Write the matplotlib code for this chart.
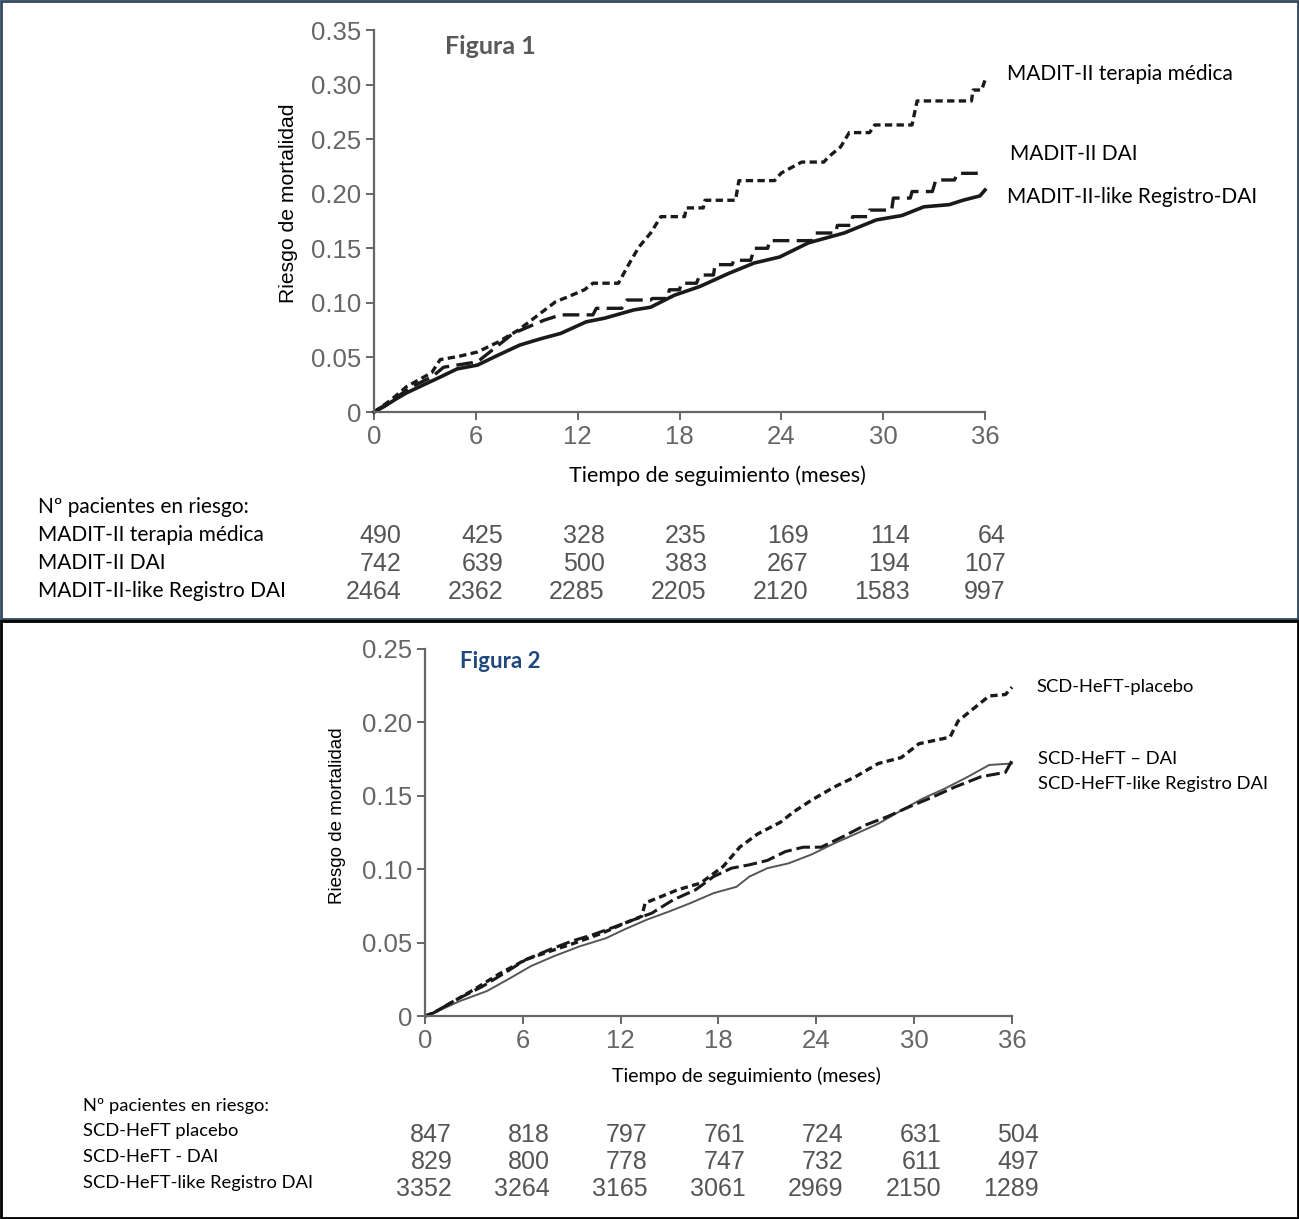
import matplotlib
matplotlib.use("Agg")
import matplotlib.pyplot as plt
import matplotlib.patches as mpatches
from matplotlib.transforms import blended_transform_factory

W, H = 1299, 1219

# --- Figura 1 (MADIT-II) --- corner points of the curves
t_med = [0, 1.0, 1.9, 2.7, 3.4, 3.9, 5.0, 6.1, 7.3, 8.5, 9.6, 10.7, 11.5, 12.4, 12.9,
         14.4, 15.0, 15.6, 16.3, 16.9, 18.3, 18.4, 19.4, 19.5, 21.3, 21.5, 23.6, 24.0,
         24.6, 25.2, 26.5, 26.8, 27.5, 28.0, 29.2, 29.5, 31.7, 32.0, 35.2, 35.3, 35.8, 36]
y_med = [0, 0.011, 0.023, 0.030, 0.036, 0.048, 0.051, 0.055, 0.064, 0.075, 0.088, 0.101,
         0.106, 0.112, 0.118, 0.118, 0.135, 0.151, 0.164, 0.179, 0.179, 0.187, 0.187,
         0.194, 0.194, 0.212, 0.212, 0.219, 0.224, 0.229, 0.229, 0.234, 0.243, 0.256,
         0.256, 0.263, 0.263, 0.285, 0.285, 0.295, 0.295, 0.304]

t_dai = [0, 1.2, 2.2, 3.4, 4.1, 6.1, 8.2, 10.0, 11.0, 12.9, 13.1, 14.6, 14.9, 16.3, 16.4,
         17.3, 17.4, 18.0, 18.1, 19.0, 19.2, 20.0, 20.1, 21.1, 21.2, 22.2, 22.4, 23.2,
         23.3, 25.8, 26.0, 27.2, 27.3, 28.1, 28.2, 29.1, 29.2, 30.5, 30.6, 31.6, 31.7,
         32.9, 33.1, 34.2, 34.4, 36]
y_dai = [0, 0.012, 0.023, 0.032, 0.041, 0.046, 0.072, 0.084, 0.089, 0.089, 0.095, 0.095,
         0.1026, 0.1026, 0.104, 0.104, 0.112, 0.112, 0.118, 0.118, 0.1255, 0.1255, 0.135,
         0.135, 0.139, 0.139, 0.150, 0.150, 0.157, 0.157, 0.164, 0.164, 0.171, 0.171,
         0.179, 0.179, 0.185, 0.185, 0.196, 0.196, 0.202, 0.202, 0.2126, 0.2126, 0.2187,
         0.2187]

t_reg = [0, 0.6, 1.2, 1.9, 2.8, 3.9, 4.9, 6.1, 7.3, 8.6, 9.8, 11.0, 12.5, 13.6, 15.3,
         16.3, 17.7, 19.2, 20.9, 22.4, 23.9, 25.6, 27.7, 29.6, 31.1, 32.4, 33.9, 34.7,
         35.7, 36]
y_reg = [0, 0.005, 0.011, 0.0174, 0.024, 0.032, 0.0395, 0.043, 0.052, 0.0614, 0.067,
         0.072, 0.0826, 0.086, 0.0935, 0.096, 0.107, 0.115, 0.127, 0.1365, 0.142, 0.155,
         0.164, 0.176, 0.180, 0.188, 0.190, 0.194, 0.198, 0.2034]

# --- Figura 2 (SCD-HeFT) ---
t_plac = [0, 0.5, 1.6, 3.0, 4.6, 6.2, 7.9, 9.2, 10.9, 12.2, 13.3, 13.5, 14.4, 15.5,
          16.9, 18.3, 19.3, 20.4, 21.8, 22.6, 23.7, 25.1, 26.4, 27.8, 29.2, 30.3, 31.8,
          32.2, 32.7, 34.6, 35.6, 36]
y_plac = [0, 0.002, 0.009, 0.018, 0.029, 0.0385, 0.045, 0.0498, 0.0566, 0.063, 0.068,
          0.077, 0.081, 0.086, 0.0905, 0.102, 0.115, 0.124, 0.132, 0.139, 0.147, 0.156,
          0.163, 0.172, 0.176, 0.1855, 0.189, 0.190, 0.201, 0.218, 0.219, 0.224]

t_hdai = [0, 0.5, 1.9, 3.5, 4.9, 6.2, 7.6, 9.0, 10.3, 11.7, 12.8, 13.9, 15.2, 16.6, 17.7,
          18.8, 19.9, 21.0, 22.1, 23.2, 24.3, 25.6, 27.0, 28.4, 29.7, 31.1, 32.5, 34.1,
          35.6, 36]
y_hdai = [0, 0.002, 0.011, 0.020, 0.0294, 0.0385, 0.045, 0.051, 0.0554, 0.061, 0.0656,
          0.070, 0.079, 0.086, 0.095, 0.1007, 0.103, 0.106, 0.112, 0.115, 0.115, 0.122,
          0.130, 0.136, 0.1425, 0.149, 0.156, 0.163, 0.166, 0.174]

t_hreg = [0, 0.8, 2.1, 3.8, 5.1, 6.5, 7.9, 9.5, 11.1, 12.2, 13.6, 15.0, 16.3, 17.7, 19.1,
          19.9, 21.0, 22.3, 23.7, 25.1, 26.4, 27.8, 29.2, 30.5, 31.9, 33.3, 34.6, 36]
y_hreg = [0, 0.0034, 0.010, 0.017, 0.025, 0.034, 0.0407, 0.0475, 0.053, 0.0588, 0.0656,
          0.0713, 0.077, 0.0837, 0.088, 0.095, 0.1007, 0.104, 0.110, 0.1176, 0.124, 0.131,
          0.140, 0.148, 0.155, 0.163, 0.171, 0.172]

months = [0, 6, 12, 18, 24, 30, 36]
risk1_names = ["MADIT-II terapia médica", "MADIT-II DAI", "MADIT-II-like Registro DAI"]
risk1 = [[490, 425, 328, 235, 169, 114, 64],
         [742, 639, 500, 383, 267, 194, 107],
         [2464, 2362, 2285, 2205, 2120, 1583, 997]]
risk2_names = ["SCD-HeFT placebo", "SCD-HeFT - DAI", "SCD-HeFT-like Registro DAI"]
risk2 = [[847, 818, 797, 761, 724, 631, 504],
         [829, 800, 778, 747, 732, 611, 497],
         [3352, 3264, 3165, 3061, 2969, 2150, 1289]]

NUM = ["Liberation Sans"]
LAB = ["Lato", "DejaVu Sans"]


def fx(x):
    return x / W


def fy(y):
    return 1 - y / H


def make_axes(x0, x1, ytop, ybot, ymax, yticks, ylabels):
    ax = fig.add_axes([fx(x0), fy(ybot), (x1 - x0) / W, (ybot - ytop) / H])
    ax.set_xlim(0, 36)
    ax.set_ylim(0, ymax)
    ax.set_xticks(months)
    ax.set_yticks(yticks)
    ax.set_yticklabels(ylabels)
    for s in ["top", "right"]:
        ax.spines[s].set_visible(False)
    for s in ["left", "bottom"]:
        ax.spines[s].set_color("#666666")
        ax.spines[s].set_linewidth(1.6)
    ax.tick_params(direction="out", length=6, width=1.4, color="#666666",
                   labelcolor="#666666", labelsize=18.5, pad=3)
    for lab in ax.get_xticklabels() + ax.get_yticklabels():
        lab.set_family(NUM)
    ax.patch.set_alpha(0)
    return ax


def risk_table(ax, rows, y0, dy, px_per_month):
    tr = blended_transform_factory(ax.transData, fig.transFigure)
    for j, m in enumerate(months):
        col = [r[j] for r in rows]
        w = max(len(str(v)) for v in col)
        off = w * 6.8 / px_per_month
        for i, v in enumerate(col):
            ax.text(m + off, fy(y0 + dy * i), str(v), transform=tr, ha="right",
                    va="center", fontsize=18, color="#555555", family=NUM)


fig = plt.figure(figsize=(W / 100, H / 100), dpi=100)

# panel frames
fig.patches.append(mpatches.Rectangle((fx(1), fy(619)), (W - 2) / W, 618 / H,
                                      transform=fig.transFigure, fill=False,
                                      edgecolor="#34495e", linewidth=2))
fig.patches.append(mpatches.Rectangle((fx(1), fy(1218)), (W - 2) / W, 597 / H,
                                      transform=fig.transFigure, fill=False,
                                      edgecolor="black", linewidth=2))

# ---------- Figura 1 ----------
ax1 = make_axes(374, 985, 30, 412, 0.35,
                [0, 0.05, 0.10, 0.15, 0.20, 0.25, 0.30, 0.35],
                ["0", "0.05", "0.10", "0.15", "0.20", "0.25", "0.30", "0.35"])
ax1.plot(t_med, y_med, color="#1a1a1a", lw=2.4, linestyle=(0, (2.2, 1.3)), clip_on=False)
ax1.plot(t_dai, y_dai, color="#1a1a1a", lw=2.4, linestyle=(0, (5, 2.2)), clip_on=False)
ax1.plot(t_reg, y_reg, color="#1a1a1a", lw=2.6, clip_on=False)

fig.text(fx(445), fy(47), "Figura 1", fontsize=18, fontweight="bold", color="#595959",
         family=LAB, va="center")
fig.text(fx(1007), fy(74), "MADIT-II terapia médica", fontsize=15, family=LAB, va="center")
fig.text(fx(1010), fy(154), "MADIT-II DAI", fontsize=15, family=LAB, va="center")
fig.text(fx(1007), fy(197), "MADIT-II-like Registro-DAI", fontsize=15, family=LAB, va="center")
fig.text(fx(288), fy(203), "Riesgo de mortalidad", fontsize=15.2, family=["Liberation Sans"],
         rotation=90, ha="center", va="center")
fig.text(fx(717), fy(476), "Tiempo de seguimiento (meses)", fontsize=15.5, family=LAB,
         ha="center", va="center")

fig.text(fx(38), fy(507), "Nº pacientes en riesgo:", fontsize=15, family=LAB, va="center")
for i, name in enumerate(risk1_names):
    fig.text(fx(38), fy(535 + 28 * i), name, fontsize=15, family=LAB, va="center")
risk_table(ax1, risk1, 536, 28, 611 / 36)

# ---------- Figura 2 ----------
ax2 = make_axes(425, 1012, 649, 1016, 0.25,
                [0, 0.05, 0.10, 0.15, 0.20, 0.25],
                ["0", "0.05", "0.10", "0.15", "0.20", "0.25"])
ax2.plot(t_hreg, y_hreg, color="#555555", lw=1.4, clip_on=False)
ax2.plot(t_hdai, y_hdai, color="#1a1a1a", lw=2.2, linestyle=(0, (4.5, 1.6)), clip_on=False)
ax2.plot(t_plac, y_plac, color="#1a1a1a", lw=2.4, linestyle=(0, (2.2, 1.3)), clip_on=False)

fig.text(fx(460), fy(662), "Figura 2", fontsize=16, fontweight="bold", color="#1f497d",
         family=LAB, va="center")
fig.text(fx(1036), fy(687), "SCD-HeFT-placebo", fontsize=13.2, family=LAB, va="center")
fig.text(fx(1038), fy(759), "SCD-HeFT – DAI", fontsize=13.2, family=LAB, va="center")
fig.text(fx(1038), fy(784), "SCD-HeFT-like Registro DAI", fontsize=13.2, family=LAB,
         va="center")
fig.text(fx(338), fy(816), "Riesgo de mortalidad", fontsize=13.5, family=["Liberation Sans"],
         rotation=90, ha="center", va="center")
fig.text(fx(746), fy(1076), "Tiempo de seguimiento (meses)", fontsize=14, family=LAB,
         ha="center", va="center")

fig.text(fx(83), fy(1106), "Nº pacientes en riesgo:", fontsize=13.2, family=LAB, va="center")
for i, name in enumerate(risk2_names):
    fig.text(fx(83), fy(1131 + 26 * i), name, fontsize=13.2, family=LAB, va="center")
risk_table(ax2, risk2, 1135, 27, 587 / 36)

fig.savefig("out.png", dpi=100)
